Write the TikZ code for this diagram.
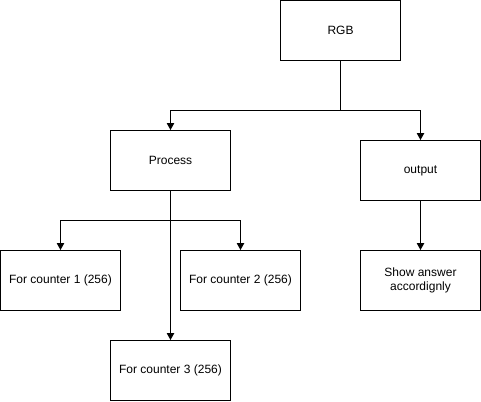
\documentclass[tikz,border=0pt]{standalone}
\usepackage{fontspec}
\setmainfont{Liberation Sans}
\usetikzlibrary{arrows.meta}
\begin{document}
\begin{tikzpicture}[x=1pt,y=-1pt,
  box/.style={draw=black,line width=1pt,minimum width=120pt,minimum height=60pt,inner sep=0pt,align=center,font=\fontsize{12}{14}\selectfont},
  conn/.style={draw=black,line width=1pt},
  arr/.style={conn,-{Triangle[length=7pt,width=7.5pt]}}]
\useasboundingbox (0,0) rectangle (481,401);
\node[box] (rgb) at (340.5,30.5) {RGB};
\node[box] (proc) at (170.5,160.5) {Process};
\node[box] (out) at (420.5,170.5) {output};
\node[box] (c1) at (60.5,280.5) {For counter 1 (256)};
\node[box] (c2) at (240.5,280.5) {For counter 2 (256)};
\node[box] (c3) at (170.5,370.5) {For counter 3 (256)};
\node[box] (show) at (420.5,280.5) {Show answer\\accordignly};
\coordinate (j1) at (340.5,110.5);
\coordinate (j2) at (170.5,220.5);
\draw[conn] (rgb.south) -- (j1);
\draw[arr] (j1) -| (proc.north);
\draw[arr] (j1) -| (out.north);
\draw[arr] (proc.south) -- (c3.north);
\draw[arr] (j2) -| (c1.north);
\draw[arr] (j2) -| (c2.north);
\draw[arr] (out.south) -- (show.north);
\end{tikzpicture}
\end{document}
